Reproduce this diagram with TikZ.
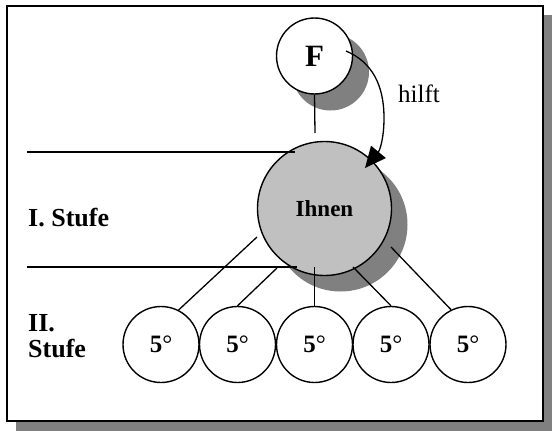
\documentclass[tikz,border=0pt]{standalone}
\usepackage{fontspec}
\setmainfont{Liberation Serif}
\usetikzlibrary{arrows.meta}
\definecolor{shadowgray}{HTML}{808080}
\definecolor{ihnenfill}{HTML}{C0C0C0}
\begin{document}
\begin{tikzpicture}[x=1pt,y=-1pt,
  circ/.style={circle,draw,line width=1.4pt,inner sep=0pt,minimum size=76pt,fill=white},
  lbl/.style={font=\fontsize{26}{28}\selectfont\bfseries, anchor=base west, inner sep=0pt},
  conn/.style={line width=1.3pt},
  five/.style={circ,font=\fontsize{25}{28}\selectfont}]
\useasboundingbox (0,0) rectangle (552,431);
% frame with shadow
\fill[shadowgray] (16,15) rectangle (552,431);
\draw[line width=2pt, fill=white] (7,6) rectangle (543,421);
% circle shadows
\fill[shadowgray] (330.5,72) circle[radius=38.5pt];
\fill[shadowgray] (340.5,224.5) circle[radius=67pt];
% circles
\node[circ] (F) at (314.5,56) {\fontsize{31}{34}\selectfont\bfseries F};
\node[circ, minimum size=134pt, fill=ihnenfill] (I) at (324.5,208.5) {\fontsize{23}{26}\selectfont\bfseries Ihnen};
\foreach \i/\x in {1/161,2/237.5,3/314.5,4/391,5/468}
  \node[five] (s\i) at (\x,344.5) {\textbf{5}°};
% labels
\node[lbl] (st1) at (28,226) {I. Stufe};
\node[lbl] (st2a) at (28,331) {II.};
\node[lbl] (st2b) at (28,357) {Stufe};
\node[font=\fontsize{25}{28}\selectfont, anchor=base west, inner sep=0pt] (h) at (398,102) {hilft};
% free line ends
\coordinate (Fend) at (315,133);
\coordinate (h1a) at (27,152);
\coordinate (h1b) at (295,152);
\coordinate (h2a) at (27,267);
\coordinate (h2b) at (297,267);
\coordinate (c1) at (257,237);
\coordinate (c2) at (277,268);
\coordinate (c3) at (314.5,267);
\coordinate (c4) at (353,267);
\coordinate (c5) at (391,247);
\coordinate (a0) at (346,51);
\coordinate (a1) at (365,168);
% lines
\draw[conn] (F.south) -- (Fend);
\draw[conn] (h1a) -- (h1b);
\draw[conn] (h2a) -- (h2b);
\draw[conn] (s1.63) -- (c1);
\draw[conn] (s2.north) -- (c2);
\draw[conn] (s3.north) -- (c3);
\draw[conn] (s4.north) -- (c4);
\draw[conn] (s5.116) -- (c5);
\draw[conn, -{Triangle[length=21pt,width=19pt]}] (a0) .. controls (372,62) and (384,85) .. (384,118) .. controls (384,138) and (380,150) .. (a1);
\end{tikzpicture}
\end{document}
